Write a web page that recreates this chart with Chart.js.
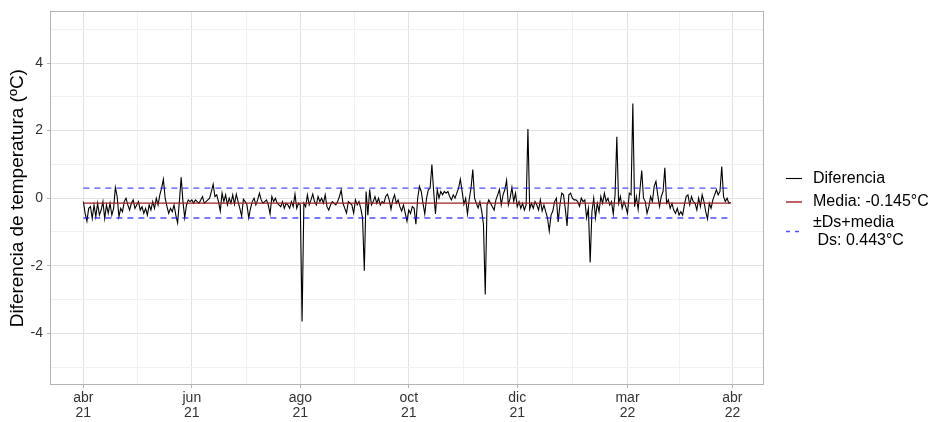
<!DOCTYPE html>
<html><head><meta charset="utf-8">
<script src="https://cdn.jsdelivr.net/npm/chart.js@4"></script>
<style>html,body{margin:0;padding:0;background:#fff;}#wrap{width:938px;height:422px;}</style>
</head><body><div id="wrap"><canvas id="c" width="938" height="422"></canvas></div>
<script>
// Daily difference, one value per day starting 2021-04-01
const startDate = '2021-04-01';
const diferencia = [
 -0.1, -0.45, -0.68, -0.3, -0.25, -0.6, -0.2, -0.55, -0.15, -0.5,
 -0.35, -0.1, -0.6, -0.2, -0.45, -0.15, -0.5, -0.3, 0.32, 0.05,
 -0.55, -0.3, -0.4, -0.1, 0.0, -0.2, -0.35, -0.15, -0.05, -0.3,
 -0.2, -0.1, -0.35, -0.25, -0.45, -0.3, -0.5, -0.2, -0.35, -0.1,
 -0.3, 0.0, -0.2, 0.1, 0.3, 0.56, 0.0, -0.24, -0.45, -0.3,
 -0.4, -0.2, -0.5, -0.73, -0.1, 0.62, -0.1, -0.58, -0.2, -0.05,
 -0.1, -0.05, -0.15, -0.05, -0.1, -0.15, -0.05, 0.05, -0.15, -0.1,
 -0.05, 0.0, 0.2, 0.41, 0.05, 0.1, -0.1, -0.38, 0.15, -0.1,
 0.1, -0.2, 0.0, -0.15, 0.1, -0.18, 0.12, -0.1, -0.3, -0.53,
 -0.03, -0.1, -0.2, -0.58, -0.3, -0.1, 0.0, -0.2, -0.05, 0.15,
 -0.05, -0.15, -0.1, -0.05, -0.2, -0.47, 0.05, -0.1, 0.0, -0.15,
 -0.2, -0.25, -0.1, -0.3, -0.15, -0.2, -0.3, -0.1, -0.25, 0.12,
 -0.3, -0.15, -0.2, -3.65, -0.15, -0.25, 0.1, -0.2, -0.05, 0.12,
 -0.1, -0.2, 0.05, -0.1, 0.0, -0.15, 0.1, -0.25, -0.35, -0.2,
 -0.1, -0.15, -0.2, -0.1, 0.05, 0.24, -0.15, -0.3, -0.44, -0.1,
 -0.15, -0.2, -0.44, -0.05, -0.2, -0.1, -0.3, -0.58, -2.15, 0.2,
 -0.5, 0.26, -0.2, -0.1, 0.05, -0.15, 0.0, -0.2, -0.1, -0.15,
 0.05, 0.12, -0.05, -0.33, -0.05, 0.1, -0.15, -0.05, -0.25, -0.38,
 -0.2, -0.44, -0.68, -0.35, -0.45, -0.25, -0.3, -0.77, 0.0, 0.35,
 0.2, -0.15, -0.47, 0.0, 0.25, 0.3, 1.0, 0.2, -0.47, 0.25,
 0.0, 0.2, 0.1, 0.2, 0.15, 0.2, 0.05, -0.05, 0.1, 0.0,
 0.15, 0.3, 0.56, 0.2, -0.18, 0.0, -0.47, -0.03, 0.3, 0.85,
 0.0, -0.15, -0.29, -0.1, -0.38, -0.77, -2.85, -0.2, -0.05, -0.15,
 -0.25, -0.35, -0.05, 0.1, 0.26, -0.2, 0.1, 0.25, 0.53, -0.2,
 0.0, 0.32, -0.1, 0.15, -0.25, -0.1, -0.3, -0.15, -0.35, -0.2,
 2.05, -0.32, -0.15, -0.3, -0.1, -0.2, -0.35, -0.05, -0.38, -0.2,
 -0.4, -0.58, -0.97, -0.5, -0.38, -0.1, 0.0, -0.7, -0.2, 0.15,
 0.1, -0.3, -0.82, 0.1, 0.15, 0.0, -0.05, -0.05, -0.1, -0.24,
 0.0, -0.1, -0.05, -0.58, -0.3, -1.9, -0.4, 0.0, -0.58, -0.15,
 -0.4, 0.05, -0.15, 0.15, -0.1, 0.0, -0.2, -0.1, -0.47, 0.1,
 1.82, -0.15, 0.05, -0.3, -0.1, -0.25, -0.45, 0.15, 0.1, 2.8,
 -0.25, 0.05, -0.33, 0.25, 0.82, 0.0, -0.1, -0.45, -0.25, 0.05,
 -0.1, 0.35, 0.5, 0.1, -0.25, 0.05, 0.2, 0.9, -0.15, -0.05,
 -0.3, -0.15, -0.35, -0.45, -0.3, -0.5, -0.4, -0.5, -0.2, 0.05,
 0.1, -0.2, 0.05, -0.1, -0.15, -0.35, 0.0, -0.25, 0.1, -0.1,
 -0.4, -0.62, -0.15, -0.3, -0.05, 0.1, 0.25, 0.1, 0.2, 0.94,
 0.05, -0.1, 0.0, -0.15, -0.12
];
const media = -0.145;
const ds = 0.443;
// x breaks in days since startDate, and their labels
const tickDays = [0, 61, 122, 183, 244, 306, 365];
const tickLabels = [['abr','21'],['jun','21'],['ago','21'],['oct','21'],['dic','21'],['mar','22'],['abr','22']];
const minorDays = [30.5, 91.5, 152.5, 213.5, 275, 335.5];
const yMajor = [-4, -2, 0, 2, 4];
const yMinor = [-5, -3, -1, 1, 3, 5];
const yTitle = 'Diferencia de temperatura (ºC)';
const legendLabels = ['Diferencia', 'Media: -0.145°C', ['±Ds+media', ' Ds: 0.443°C']];

const FONT = "'Liberation Sans', Arial, sans-serif";
const COL_LINE = '#000000';
const COL_MEAN = '#9e1f1f';
const COL_DS = 'rgba(20,20,255,0.75)';
const GRID_MAJOR = '#e2e2e2';
const GRID_MINOR = '#f1f1f1';
const BORDER = '#b3b3b3';

const lastDay = diferencia.length - 1;
const pts = diferencia.map((v, i) => ({x: i, y: v}));
const hline = (y) => [{x: 0, y: y}, {x: lastDay, y: y}];

const panelBorder = {
  id: 'panelBorder',
  afterDatasetsDraw(chart) {
    const a = chart.chartArea, ctx = chart.ctx;
    ctx.save();
    ctx.strokeStyle = BORDER; ctx.lineWidth = 1;
    ctx.strokeRect(Math.round(a.left) - 0.5, Math.round(a.top) - 0.5, Math.round(a.right - a.left) + 1, Math.round(a.bottom - a.top) + 1);
    ctx.restore();
  }
};

const customLegend = {
  id: 'customLegend',
  afterDraw(chart) {
    const ctx = chart.ctx;
    ctx.save();
    ctx.font = '16px ' + FONT;
    ctx.fillStyle = '#000';
    ctx.textBaseline = 'middle';
    ctx.textAlign = 'left';
    const x0 = 786, x1 = 802, tx = 813;
    ctx.strokeStyle = COL_LINE; ctx.lineWidth = 1.1; ctx.setLineDash([]);
    ctx.beginPath(); ctx.moveTo(x0, 178.5); ctx.lineTo(x1, 178.5); ctx.stroke();
    ctx.fillText(legendLabels[0], tx, 179);
    ctx.strokeStyle = COL_MEAN; ctx.lineWidth = 1.4;
    ctx.beginPath(); ctx.moveTo(x0, 202); ctx.lineTo(x1, 202); ctx.stroke();
    ctx.fillText(legendLabels[1], tx, 202);
    ctx.strokeStyle = COL_DS; ctx.lineWidth = 1.4; ctx.setLineDash([4, 5]);
    ctx.beginPath(); ctx.moveTo(x0, 231.5); ctx.lineTo(x1 + 1, 231.5); ctx.stroke();
    ctx.setLineDash([]);
    ctx.fillText(legendLabels[2][0], tx, 223);
    ctx.fillText(legendLabels[2][1], tx, 241);
    ctx.restore();
  }
};

new Chart(document.getElementById('c'), {
  type: 'line',
  data: {
    datasets: [
      {label: 'Media', data: hline(media), borderColor: COL_MEAN, borderWidth: 1.4, pointRadius: 0, order: 0},
      {label: 'sup', data: hline(media + ds), borderColor: COL_DS, borderWidth: 1.4, borderDash: [6, 5], pointRadius: 0, order: 1},
      {label: 'inf', data: hline(media - ds), borderColor: COL_DS, borderWidth: 1.4, borderDash: [6, 5], pointRadius: 0, order: 1},
      {label: 'Diferencia', data: pts, borderColor: COL_LINE, borderWidth: 1.1, pointRadius: 0, tension: 0, order: 2}
    ]
  },
  options: {
    responsive: false,
    animation: false,
    devicePixelRatio: 1,
    layout: {padding: {left: 0, top: 10, right: 175, bottom: 0}},
    plugins: {legend: {display: false}, tooltip: {enabled: false}, title: {display: false}},
    scales: {
      x: {
        type: 'linear', min: -18.2, max: 382.2,
        afterBuildTicks(scale) {
          scale.ticks = [...tickDays, ...minorDays].sort((a, b) => a - b).map(v => ({value: v}));
        },
        afterFit(scale) { scale.height = 38; },
        ticks: {
          autoSkip: false, maxRotation: 0, minRotation: 0, padding: 3,
          color: '#333333', font: {family: FONT, size: 14, lineHeight: 1.05},
          callback(value) { const i = tickDays.indexOf(value); return i >= 0 ? tickLabels[i] : ''; }
        },
        grid: {
          lineWidth: 1, drawTicks: true, tickLength: 4,
          color: (c) => tickDays.includes(c.tick.value) ? GRID_MAJOR : GRID_MINOR,
          tickColor: (c) => tickDays.includes(c.tick.value) ? BORDER : 'rgba(0,0,0,0)'
        },
        border: {display: false}
      },
      y: {
        type: 'linear', min: -5.5, max: 5.5,
        afterBuildTicks(scale) {
          scale.ticks = [...yMajor, ...yMinor].sort((a, b) => a - b).map(v => ({value: v}));
        },
        afterFit(scale) { scale.width = 51; },
        ticks: {
          autoSkip: false, padding: 4, color: '#333333', font: {family: FONT, size: 14},
          callback(value) { return yMajor.includes(value) ? String(value) : ''; }
        },
        grid: {
          lineWidth: 1, drawTicks: true, tickLength: 4,
          color: (c) => yMajor.includes(c.tick.value) ? GRID_MAJOR : GRID_MINOR,
          tickColor: (c) => yMajor.includes(c.tick.value) ? BORDER : 'rgba(0,0,0,0)'
        },
        border: {display: false},
        title: {display: true, text: yTitle, color: '#000', font: {family: FONT, size: 19}, padding: {top: 6, bottom: 0}}
      }
    }
  },
  plugins: [panelBorder, customLegend]
});
</script>
</body></html>
